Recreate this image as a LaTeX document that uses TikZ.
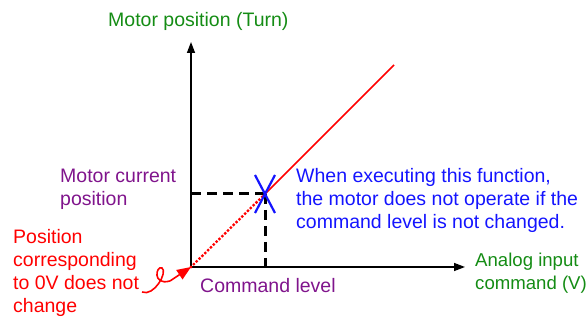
\documentclass[tikz,border=0pt]{standalone}
\usepackage{fontspec}
\setmainfont{Liberation Sans}
\usetikzlibrary{arrows.meta}
\definecolor{cgreen}{RGB}{20,140,20}
\definecolor{cpurple}{RGB}{128,20,140}
\definecolor{cblue}{RGB}{20,20,255}
\definecolor{cred}{RGB}{255,0,0}
\begin{document}
\begin{tikzpicture}[x=1pt,y=-1pt,
  lbl/.style={font=\fontsize{19.5}{23}\selectfont, inner sep=0pt, anchor=base west, align=left},
  axis/.style={line width=1.4pt, -{Triangle[length=11pt,width=8pt]}},
  guide/.style={line width=3pt, dash pattern=on 10pt off 6pt},
]
\useasboundingbox (0,0) rectangle (587,320);
\coordinate (O) at (191,267);
\coordinate (ytop) at (191,42);
\coordinate (xend) at (465,267);
\coordinate (P) at (265,194);
\coordinate (Pd) at (191,194);
\coordinate (Px) at (265,267);
\coordinate (lineend) at (394,65);
% axes
\draw[axis] (O) -- (ytop);
\draw[axis] (O) -- (xend);
% guides
\draw[guide] (Pd) -- (P);
\draw[guide] (P) -- (Px);
% red line
\draw[cred, line width=1.6pt] (P) -- (lineend);
\draw[cred, line width=3.3pt, dash pattern=on 0pt off 4pt, line cap=round] (O) -- (P);
% blue X
\draw[cblue, line width=2.2pt] (255,175) -- (275,213);
\draw[cblue, line width=2.2pt] (275,175) -- (255,213);
% curly arrow
\coordinate (cs) at (142,292);
\coordinate (cl) at (170,281);
\draw[cred, line width=1.6pt] (cs) .. controls (154,297) and (168,272) .. (162,268)
   .. controls (156,265) and (152,286) .. (cl);
\draw[cred, line width=1.6pt, -{Triangle[length=14pt,width=11pt]}] (cl) -- (O);
% labels
\node[lbl, text=cgreen] (ylab) at (108,27) {Motor position (Turn)};
\node[lbl, text=cpurple] (mcp) at (60,206) {Motor current\\position};
\node[lbl, text=cred] (pos0) at (13,313) {Position\\corresponding\\to 0V does not\\change};
\node[lbl, text=cpurple] (cmd) at (200,293) {Command level};
\node[lbl, text=cgreen, font=\fontsize{18.6}{23}\selectfont] (xlab) at (475,290) {Analog input\\command (V)};
\node[lbl, text=cblue] (note) at (296,229) {When executing this function,\\the motor does not operate if the\\command level is not changed.};
\end{tikzpicture}
\end{document}
